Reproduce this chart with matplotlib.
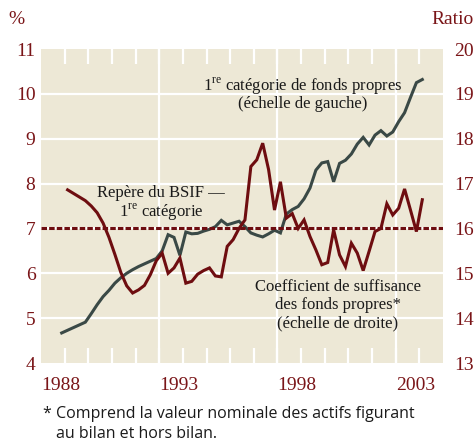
import numpy as np
import matplotlib
matplotlib.use("Agg")
import matplotlib.pyplot as plt
import matplotlib.transforms as mtransforms

plt.rcParams['font.family'] = ['Liberation Serif', 'DejaVu Serif']
plt.rcParams['mathtext.fontset'] = 'custom'
plt.rcParams['mathtext.rm'] = 'Liberation Serif'

# Quarterly series, dated at mid-quarter
tier1_start = 1987.875      # 1987 Q4
ratio_start = 1988.125      # 1988 Q1

# Tier 1 capital, % (left scale)
tier1 = [4.67,
         4.73, 4.79, 4.85, 4.91,
         5.10, 5.30, 5.48, 5.62,
         5.78, 5.90, 6.00, 6.08,
         6.15, 6.21, 6.27, 6.33,
         6.50, 6.86, 6.80, 6.40,
         6.92, 6.88, 6.89, 6.94,
         6.98, 7.04, 7.18, 7.08,
         7.12, 7.16, 7.04, 6.90,
         6.85, 6.81, 6.88, 6.96,
         6.90, 7.32, 7.42, 7.49,
         7.66, 7.90, 8.30, 8.46,
         8.49, 8.04, 8.45, 8.52,
         8.66, 8.88, 9.03, 8.86,
         9.08, 9.18, 9.06, 9.15,
         9.38, 9.58, 9.92, 10.25,
         10.32]

# Assets-to-capital multiple (right scale)
ratio = [16.86, 16.78, 16.70, 16.62,
         16.50, 16.35, 16.12, 15.80,
         15.42, 15.02, 14.72, 14.56,
         14.63, 14.73, 14.97, 15.28,
         15.45, 15.00, 15.12, 15.34,
         14.78, 14.82, 14.98, 15.06,
         15.12, 14.94, 14.92, 15.60,
         15.75, 16.00, 16.19, 17.38,
         17.53, 17.90, 17.31, 16.41,
         17.04, 16.23, 16.33, 16.00,
         16.19, 15.82, 15.52, 15.19,
         15.24, 15.97, 15.41, 15.15,
         15.67, 15.45, 15.06, 15.49,
         15.93, 16.00, 16.55, 16.30,
         16.45, 16.88, 16.41, 15.93,
         16.64]

benchmark = 7               # OSFI tier 1 benchmark, %
left_ticks = [4, 5, 6, 7, 8, 9, 10, 11]
right_ticks = [13, 14, 15, 16, 17, 18, 19, 20]
year_ticks = list(range(1988, 2004))
year_labels = [1988, 1993, 1998, 2003]
grid_years = [1992, 1997, 2002]

t_tier1 = tier1_start + 0.25 * np.arange(len(tier1))
t_ratio = ratio_start + 0.25 * np.arange(len(ratio))

BG = '#ede8d6'
MAROON = '#6e0d10'
SLATE = '#3a4946'
LABEL = '#7a1518'

fig = plt.figure(figsize=(4.74, 4.45), dpi=100)
ax = fig.add_axes([41 / 474, 1 - 363 / 445, 402 / 474, 314 / 445])
ax.set_facecolor(BG)
ax.set_xlim(1987, 2004)
ax.set_ylim(4, 11)

ax2 = ax.twinx()
ax2.set_ylim(13, 20)
ax2.patch.set_visible(False)

# white grid
for v in left_ticks[1:-1]:
    ax.axhline(v, color='white', lw=1.6, zorder=1)
for g in grid_years:
    ax.axvline(g, color='white', lw=1.6, zorder=1)

ax.plot(t_tier1, tier1, color=SLATE, lw=2.2, zorder=3, solid_joinstyle='miter')
ax2.plot(t_ratio, ratio, color=MAROON, lw=2.2, zorder=3, solid_joinstyle='miter')
ax2.axhline(benchmark + 9, color=MAROON, lw=2.2, dashes=(1.8, 0.7), zorder=4)

for a in (ax, ax2):
    for s in a.spines.values():
        s.set_visible(False)

ax.set_xticks(year_ticks)
ax.set_xticklabels([str(y) if y in year_labels else '' for y in year_ticks])
ax.tick_params(axis='x', direction='in', length=11, width=1.6, color='white',
               top=True, bottom=True, pad=10, labelsize=14, labelcolor=LABEL)
shift = mtransforms.ScaledTranslation(-4 / 100, 0, fig.dpi_scale_trans)
for lbl in ax.get_xticklabels():
    lbl.set_transform(lbl.get_transform() + shift)

ax.set_yticks(left_ticks)
ax.tick_params(axis='y', length=0, pad=4, labelsize=14, labelcolor=LABEL)
ax2.set_yticks(right_ticks)
ax2.tick_params(axis='y', length=0, pad=8, labelsize=14, labelcolor=LABEL)

fig.text(16 / 474, 1 - 20 / 445, '%', color=LABEL, fontsize=14, ha='center', va='center')
fig.text(453 / 474, 1 - 20 / 445, 'Ratio', color=LABEL, fontsize=14, ha='center', va='center')

txt = dict(fontsize=12, color='#1a1a1a', ha='center', va='center')
fig.text(303 / 474, 1 - 86 / 445, r'1$^{\rm re}$ catégorie de fonds propres', **txt)
fig.text(303 / 474, 1 - 104 / 445, '(échelle de gauche)', **txt)
fig.text(161 / 474, 1 - 193 / 445, 'Repère du BSIF —', **txt)
fig.text(161 / 474, 1 - 212 / 445, r'1$^{\rm re}$ catégorie', **txt)
fig.text(338 / 474, 1 - 287 / 445, 'Coefficient de suffisance', **txt)
fig.text(338 / 474, 1 - 305 / 445, 'des fonds propres*', **txt)
fig.text(338 / 474, 1 - 323 / 445, '(échelle de droite)', **txt)

note = dict(fontsize=11.5, color='#1a1a1a', family=['Open Sans', 'DejaVu Sans'], va='center')
fig.text(42 / 474, 1 - 414 / 445, '*', **note)
fig.text(56 / 474, 1 - 414 / 445, 'Comprend la valeur nominale des actifs figurant', **note)
fig.text(56 / 474, 1 - 434 / 445, 'au bilan et hors bilan.', **note)

fig.savefig('out.png', dpi=100, facecolor='white')
